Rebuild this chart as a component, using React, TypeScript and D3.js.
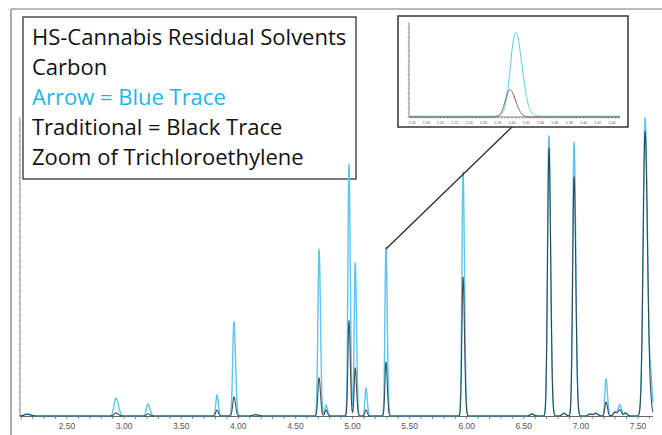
import React from "react";
import * as d3 from "d3";

// ---- Data ----
// Retention times (min) of the peaks in the main chromatogram
const peakRt = [2.15, 2.929, 3.209, 3.813, 3.962, 4.15, 4.707, 4.768, 4.969, 5.024, 5.118, 5.293, 5.968, 6.57, 6.72, 6.85, 6.94, 7.08, 7.13, 7.22, 7.3, 7.34, 7.39, 7.562, 7.614];
// Arrow (blue trace) peak heights, % of full scale
const blueHeight = [0.8, 6.0, 4.0, 7.0, 31.5, 0.5, 55.7, 3.7, 84.6, 51.3, 9.4, 56.7, 81.9, 0.8, 94.0, 1.0, 91.9, 0.8, 1.0, 12.4, 1.5, 3.7, 1.2, 100, 9.7];
// Traditional (black trace) peak heights, % of full scale
const blackHeight = [0.5, 1.0, 0.7, 2.0, 6.4, 0.4, 12.8, 2.0, 31.9, 16.1, 2.0, 18.1, 46.6, 0.6, 89.9, 0.8, 80.2, 0.6, 0.8, 4.7, 1.2, 2.0, 0.9, 95.3, 2.0];
// Peak widths (sigma, min)
const peakWidth = [0.025, 0.017, 0.014, 0.01, 0.011, 0.02, 0.01, 0.01, 0.009, 0.009, 0.009, 0.009, 0.01, 0.015, 0.012, 0.015, 0.012, 0.015, 0.015, 0.01, 0.015, 0.012, 0.012, 0.017, 0.01];

const xTickLabels = ["2.50", "3.00", "3.50", "4.00", "4.50", "5.00", "5.50", "6.00", "6.50", "7.00", "7.50"];

// Inset: zoom of trichloroethylene
const insetRt = [5.305, 5.297];
const insetHeight = [89, 29];
const insetWidth = [0.0072, 0.0064];
const insetTickLabels = ["5.16", "5.18", "5.20", "5.22", "5.24", "5.26", "5.28", "5.30", "5.32", "5.34", "5.36", "5.38", "5.40", "5.42", "5.44"];

const legendLines = ["HS-Cannabis Residual Solvents", "Carbon", "Arrow = Blue Trace", "Traditional = Black Trace", "Zoom of Trichloroethylene"];

const BLUE = "#5cc6ee";
const DARK = "#27343a";

function trace(rts: number[], hs: number[], ws: number[], t0: number, t1: number, step: number) {
  const pts: [number, number][] = [];
  for (let t = t0; t <= t1 + 1e-9; t += step) {
    let v = 0;
    for (let i = 0; i < rts.length; i++) {
      const d = t - rts[i];
      const s = d > 0 ? ws[i] * 1.25 : ws[i];
      v += hs[i] * Math.exp(-(d * d) / (2 * s * s));
    }
    pts.push([t, v]);
  }
  return pts;
}

export default function App() {
  const W = 662, H = 435;
  const x = d3.scaleLinear().domain([2.5, 7.5]).range([67, 638]);
  const y = d3.scaleLinear().domain([0, 100]).range([416, 118]);
  const t0 = x.invert(20), t1 = x.invert(653);

  const line = d3.line<[number, number]>().x(d => x(d[0])).y(d => y(d[1]));
  const blueTrace = trace(peakRt, blueHeight, peakWidth, t0, t1, 0.0008);
  const blackTrace = trace(peakRt, blackHeight, peakWidth, t0, t1, 0.0008);

  const minor = d3.range(Math.ceil(t0 * 10) / 10, t1, 0.1);
  const yMinor = d3.range(0, 100.01, 2);

  // inset scales
  const ix = d3.scaleLinear().domain([5.16, 5.44]).range([412, 612]);
  const iy = d3.scaleLinear().domain([0, 100]).range([117, 23]);
  const ilo = ix.invert(409), ihi = ix.invert(620);
  const iline = d3.line<[number, number]>().x(d => ix(d[0])).y(d => iy(d[1]));
  const insetBlue = trace([insetRt[0]], [insetHeight[0]], [insetWidth[0]], ilo, ihi, 0.0005);
  const insetBlack = trace([insetRt[1]], [insetHeight[1]], [insetWidth[1]], ilo, ihi, 0.0005);
  const iMinor = d3.range(5.16, ihi, 0.005);
  const iyMinor = d3.range(0, 100.01, 5);

  const peakIdx = peakRt.indexOf(5.293);

  return (
    <svg width={W} height={H} style={{ position: "absolute", left: 0, top: 0, background: "#fff" }}>
      <rect x={0} y={0} width={W} height={H} fill="#fff" />
      {/* outer frame */}
      <line x1={11} y1={9} x2={W} y2={9} stroke="#777" strokeWidth={1.2} />
      <line x1={11} y1={9} x2={11} y2={H} stroke="#777" strokeWidth={1.2} />

      {/* y axis */}
      <line x1={20} y1={y(100)} x2={20} y2={y(0)} stroke="#888" strokeWidth={1} />
      {yMinor.map((v, i) => (
        <line key={"yt" + i} x1={18.5} x2={20} y1={y(v)} y2={y(v)} stroke="#999" strokeWidth={0.8} />
      ))}

      {/* x axis */}
      <line x1={20} y1={y(0) + 0.5} x2={653} y2={y(0) + 0.5} stroke="#666" strokeWidth={1} />
      {minor.map((t, i) => (
        <line key={"xt" + i} x1={x(t)} x2={x(t)} y1={y(0)} y2={y(0) + 3} stroke="#666" strokeWidth={0.8} />
      ))}
      {xTickLabels.map(l => (
        <text key={l} x={x(+l)} y={428.5} fontSize={8.5} fill="#555" textAnchor="middle" fontFamily="Liberation Sans, Arial, sans-serif">{l}</text>
      ))}

      {/* legend box */}
      <rect x={23} y={17} width={333} height={162} fill="#fff" stroke="#333" strokeWidth={1.3} />
      {legendLines.map((l, i) => (
        <text key={l} x={32} y={45 + i * 30} fontSize={22} fill={i === 2 ? "#1fb3ea" : "#111"} fontFamily="'Open Sans', sans-serif">{l}</text>
      ))}

      {/* traces (drawn over the legend box, as in the original) */}
      <path d={line(blueTrace) || ""} fill="none" stroke={BLUE} strokeWidth={1.4} />
      <path d={line(blackTrace) || ""} fill="none" stroke={DARK} strokeWidth={1.1} strokeOpacity={0.85} />

      {/* connector */}
      <line x1={x(peakRt[peakIdx])} y1={y(blueHeight[peakIdx]) + 2} x2={ix(5.30)} y2={127} stroke="#222" strokeWidth={1.2} />

      {/* inset */}
      <rect x={398} y={16} width={230} height={111} fill="#fff" stroke="#333" strokeWidth={1.5} />
      <line x1={409} y1={iy(100)} x2={409} y2={iy(0)} stroke="#666" strokeWidth={0.8} />
      {iyMinor.map((v, i) => (
        <line key={"iyt" + i} x1={407.5} x2={409} y1={iy(v)} y2={iy(v)} stroke="#888" strokeWidth={0.6} />
      ))}
      <line x1={409} y1={iy(0)} x2={620} y2={iy(0)} stroke="#666" strokeWidth={0.8} />
      {iMinor.map((t, i) => (
        <line key={"ixt" + i} x1={ix(t)} x2={ix(t)} y1={iy(0)} y2={iy(0) + 1.5} stroke="#666" strokeWidth={0.6} />
      ))}
      {insetTickLabels.map(l => (
        <text key={l} x={ix(+l)} y={123.5} fontSize={3.6} fill="#555" textAnchor="middle" fontFamily="Liberation Sans, Arial, sans-serif">{l}</text>
      ))}
      <path d={iline(insetBlue) || ""} fill="none" stroke={BLUE} strokeWidth={1} transform="translate(0,-0.8)" />
      <path d={iline(insetBlack) || ""} fill="none" stroke="#6b5048" strokeWidth={0.9} />
    </svg>
  );
}
